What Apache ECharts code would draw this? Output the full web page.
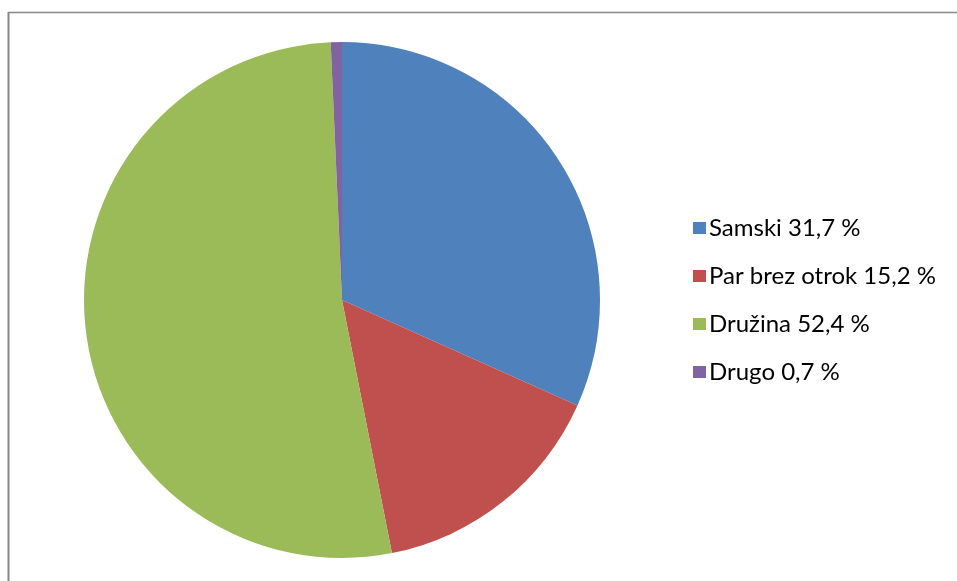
<!DOCTYPE html>
<html>
<head>
<meta charset="utf-8">
<script src="https://cdn.jsdelivr.net/npm/echarts@6/dist/echarts.min.js"></script>
<style>
  html, body { margin: 0; padding: 0; background: #fff; }
  #chart { width: 957px; height: 581px; }
</style>
</head>
<body>
<div id="chart"></div>
<script>
// Household types (share in %)
const categories = ['Samski', 'Par brez otrok', 'Družina', 'Drugo'];
const shares = [31.7, 15.2, 52.4, 0.7];
const colors = ['#4F81BD', '#C0504D', '#9BBB59', '#8064A2'];

const fmt = v => v.toFixed(1).replace('.', ',') + ' %';

const chart = echarts.init(document.getElementById('chart'), null, { renderer: 'canvas' });
chart.setOption({
  animation: false,
  backgroundColor: '#fff',
  color: colors,
  graphic: [
    { type: 'line', shape: { x1: 8.5, y1: 12, x2: 8.5, y2: 581 }, style: { stroke: '#888', lineWidth: 2 } },
    { type: 'line', shape: { x1: 8, y1: 12.5, x2: 957, y2: 12.5 }, style: { stroke: '#888', lineWidth: 1.5 } }
  ],
  legend: {
    orient: 'vertical',
    left: 688,
    top: 211,
    itemWidth: 13,
    itemHeight: 12,
    itemGap: 24,
    icon: 'rect',
    textStyle: { fontFamily: 'Lato', fontSize: 24, color: '#000', padding: [0, 0, 0, -2] },
    formatter: name => name + ' ' + fmt(shares[categories.indexOf(name)])
  },
  series: [{
    type: 'pie',
    center: [342, 300],
    radius: 258,
    startAngle: 90,
    clockwise: true,
    label: { show: false },
    labelLine: { show: false },
    itemStyle: { borderWidth: 0 },
    data: categories.map((c, i) => ({ name: c, value: shares[i] }))
  }]
});
</script>
</body>
</html>
